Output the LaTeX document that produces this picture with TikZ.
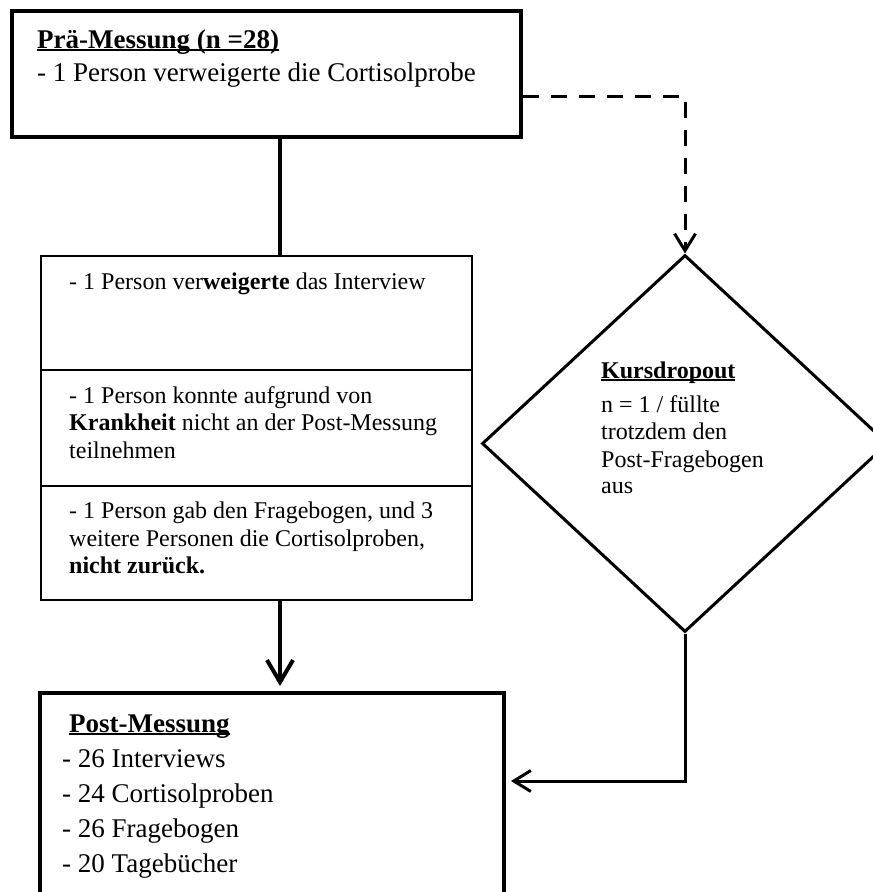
\documentclass[tikz,border=0pt]{standalone}
\usepackage{fontspec}
\setmainfont{Liberation Serif}
\usetikzlibrary{arrows.meta,shapes.geometric}
\newcommand\myul[1]{\setbox0\hbox{#1}\rlap{\rule[-2.5pt]{\wd0}{1.4pt}}\box0}
\begin{document}
\begin{tikzpicture}[x=1pt,y=-1pt,
  boxthick/.style={draw, line width=4pt, inner sep=0pt},
  boxthin/.style={draw, line width=2pt, inner sep=0pt},
  tbig/.style={anchor=base west, inner sep=0pt, font=\fontsize{27}{30}\selectfont},
  tmid/.style={anchor=base west, inner sep=0pt, font=\fontsize{24}{27}\selectfont},
  tipbig/.style={-{Straight Barb[length=22pt,width=26pt]}},
  tipsmall/.style={-{Straight Barb[length=17pt,width=21pt]}}]
\useasboundingbox (0,0) rectangle (873,892);
\clip (0,0) rectangle (873,892);
% boxes
\node[boxthick, minimum width=509pt, minimum height=126pt] (pre) at (266.5,74) {};
\node[boxthin, minimum width=431pt, minimum height=344pt] (mid) at (256.5,428) {};
\node[boxthick, minimum width=464pt, minimum height=242pt] (post) at (272,814) {};
\node[diamond, draw, line width=3pt, inner sep=0pt, minimum width=406pt, minimum height=377pt] (drop) at (685,443.5) {};
% separators in middle box
\coordinate (s1) at (0,370);
\coordinate (s2) at (0,486);
\draw[line width=2pt] (mid.west |- s1) -- (mid.east |- s1);
\draw[line width=2pt] (mid.west |- s2) -- (mid.east |- s2);
% connectors
\coordinate (xa) at (280,0);
\coordinate (bend1) at (685,96);
\coordinate (bend2) at (685,781);
\draw[line width=4pt] (pre.south -| xa) -- (mid.north -| xa);
\draw[line width=4pt, tipbig, shorten >=5pt] (mid.south -| xa) -- (post.north -| xa);
\draw[line width=3pt, dash pattern=on 16pt off 12pt, tipsmall] (pre.east |- bend1) -- (bend1) -- (drop.north);
\draw[line width=3pt, tipsmall, shorten >=5pt] (drop.south) -- (bend2) -- (post.east |- bend2);
% texts
\node[tbig] (t1) at (37,48) {\myul{\textbf{Prä-Messung (n =28)}}};
\node[tbig] (t2) at (37,81) {- 1 Person verweigerte die Cortisolprobe};
\node[tmid] (m1) at (69,289) {- 1 Person ver\textbf{weigerte} das Interview};
\node[tmid] (m2) at (69,403) {- 1 Person konnte aufgrund von};
\node[tmid] (m3) at (69,430) {\textbf{Krankheit} nicht an der Post-Messung};
\node[tmid] (m4) at (69,458) {teilnehmen};
\node[tmid] (m5) at (69,518) {- 1 Person gab den Fragebogen, und 3};
\node[tmid] (m6) at (69,546) {weitere Personen die Cortisolproben,};
\node[tmid] (m7) at (69,573) {\textbf{nicht zurück.}};
\node[tmid] (k1) at (601,378) {\myul{\textbf{Kursdropout}}};
\node[tmid] (k2) at (601,412) {n = 1 / füllte};
\node[tmid] (k3) at (601,439) {trotzdem den};
\node[tmid] (k4) at (601,467) {Post-Fragebogen};
\node[tmid] (k5) at (601,493) {aus};
\node[tbig] (p1) at (69,732) {\myul{\textbf{Post-Messung}}};
\node[tbig] (p2) at (62,767) {- 26 Interviews};
\node[tbig] (p3) at (62,802) {- 24 Cortisolproben};
\node[tbig] (p4) at (62,837) {- 26 Fragebogen};
\node[tbig] (p5) at (62,872) {- 20 Tagebücher};
\end{tikzpicture}
\end{document}
